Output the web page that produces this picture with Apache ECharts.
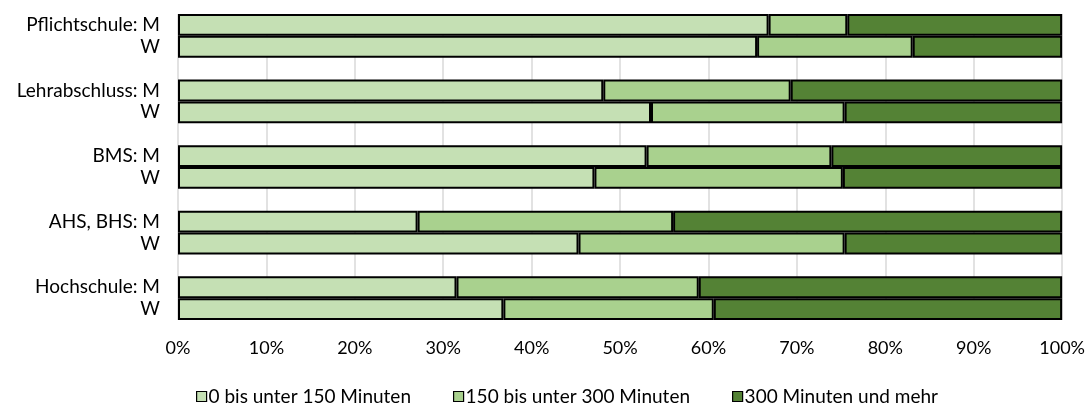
<!DOCTYPE html>
<html>
<head>
<meta charset="utf-8">
<script src="https://cdn.jsdelivr.net/npm/echarts@6/dist/echarts.min.js"></script>
<style>
  html, body { margin: 0; padding: 0; background: #fff; }
  #chart { width: 1088px; height: 406px; }
</style>
</head>
<body>
<div id="chart"></div>
<script>
// Row labels, top to bottom; empty strings leave a spacer row between school levels
const categories = [
  'Pflichtschule: M', 'W', '',
  'Lehrabschluss: M', 'W', '',
  'BMS: M', 'W', '',
  'AHS, BHS: M', 'W', '',
  'Hochschule: M', 'W'
];

const seriesNames = ['0 bis unter 150 Minuten', '150 bis unter 300 Minuten', '300 Minuten und mehr'];

// Shares in percent per row (null for spacer rows)
const under150 = [66.8, 65.5, null, 48.1, 53.5, null, 53.0, 47.1, null, 27.1, 45.3, null, 31.5, 36.8];
const from150to300 = [8.9, 17.6, null, 21.2, 21.9, null, 20.9, 28.1, null, 28.9, 30.1, null, 27.4, 23.8];
const over300 = [24.3, 16.9, null, 30.7, 24.6, null, 26.1, 24.8, null, 44.0, 24.6, null, 41.1, 39.4];

const colors = ['#c5e0b4', '#a9d18e', '#548235'];
const font = 'Lato, "Noto Sans", sans-serif';

const chart = echarts.init(document.getElementById('chart'), null, { renderer: 'canvas' });

const makeSeries = (name, data, color) => ({
  name: name,
  type: 'bar',
  stack: 'total',
  data: data,
  barCategoryGap: 0,
  barGap: 0,
  itemStyle: { color: color, borderColor: '#000', borderWidth: 2 },
  emphasis: { disabled: true }
});

chart.setOption({
  animation: false,
  color: colors,
  grid: { left: 178, right: 24.5, top: 14, bottom: 86, containLabel: false },
  legend: {
    top: 387,
    left: 196,
    padding: 0,
    itemWidth: 10,
    itemHeight: 10,
    itemGap: 42,
    icon: 'rect',
    itemStyle: { borderColor: '#000', borderWidth: 1.2 },
    textStyle: { fontFamily: font, fontSize: 19, color: '#000', padding: [0, 0, 0, -3] },
    data: seriesNames
  },
  xAxis: {
    type: 'value',
    min: 0,
    max: 100,
    interval: 10,
    axisLine: { show: false },
    axisTick: { show: false },
    splitLine: { show: true, lineStyle: { color: '#d9d9d9', width: 1.5 } },
    axisLabel: {
      formatter: '{value}%',
      fontFamily: font,
      fontSize: 18,
      color: '#000',
      margin: 19
    }
  },
  yAxis: {
    type: 'category',
    data: categories,
    inverse: true,
    axisLine: { show: false },
    axisTick: { show: false },
    axisLabel: {
      fontFamily: font,
      fontSize: 19,
      color: '#000',
      margin: 18,
      interval: 0
    }
  },
  series: [
    makeSeries(seriesNames[0], under150, colors[0]),
    makeSeries(seriesNames[1], from150to300, colors[1]),
    makeSeries(seriesNames[2], over300, colors[2])
  ]
});
</script>
</body>
</html>
